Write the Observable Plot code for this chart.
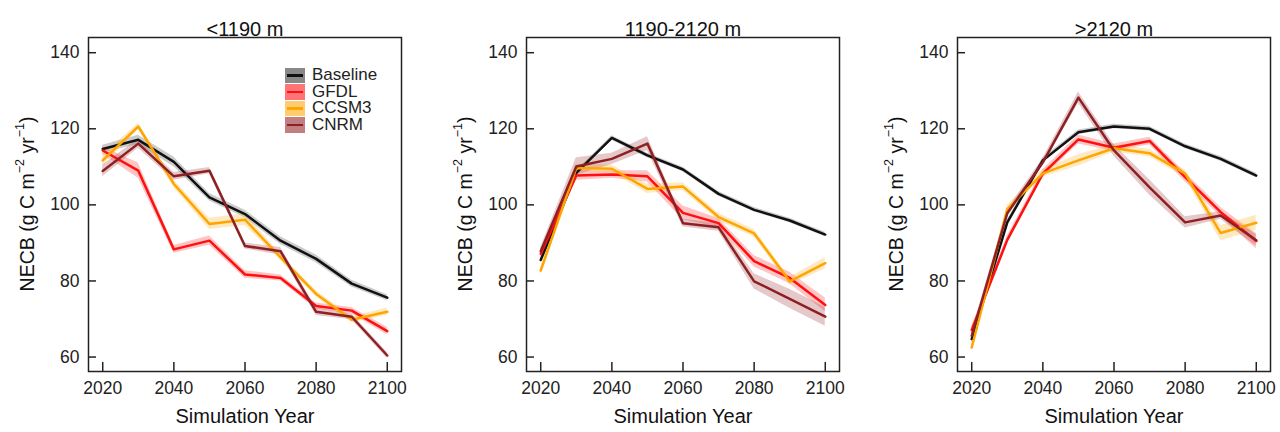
<!DOCTYPE html>
<html>
<head>
<meta charset="utf-8">
<script src="https://cdn.jsdelivr.net/npm/d3@7"></script>
<script src="https://cdn.jsdelivr.net/npm/@observablehq/plot@0.6"></script>
<style>
  body { margin: 0; background: white; font-family: "Liberation Sans", Arial, sans-serif; }
  #wrap { position: relative; width: 1280px; height: 432px; overflow: hidden; }
  .panel { position: absolute; top: 0; }
  .legend { position: absolute; left: 285px; top: 67px; font-size: 17px; color: #222; }
  .legend .row { display: flex; align-items: center; height: 16.5px; }
  .legend .sw { position: relative; width: 20px; height: 15.5px; margin-right: 7px; }
  .legend .sw .ln { position: absolute; left: 2px; right: 2px; top: 6.5px; height: 2.5px; }
</style>
</head>
<body>
<div id="wrap"></div>
<script>
// ---------- data ----------
const years = [2020, 2030, 2040, 2050, 2060, 2070, 2080, 2090, 2100];
const panelTitles = ["<1190 m", "1190-2120 m", ">2120 m"];
const seriesNames = ["Baseline", "GFDL", "CCSM3", "CNRM"];
const seriesColors = ["#111111", "#ff1010", "#ffa500", "#8e2024"];
const bandColors = ["#555555", "#ff3b3b", "#ffb733", "#a8484b"];
const xTicks = [2020, 2040, 2060, 2080, 2100];
const yTicks = [60, 80, 100, 120, 140];

// panel 1: <1190 m
const p1Baseline = [114.7, 117.1, 111.3, 102.0, 97.6, 90.6, 85.8, 79.3, 75.6];
const p1GFDL     = [114.3, 109.0, 88.3, 90.6, 81.7, 80.8, 73.4, 72.2, 66.8];
const p1CCSM3    = [111.7, 120.6, 105.5, 95.0, 96.1, 86.2, 76.6, 69.8, 71.9];
const p1CNRM     = [108.9, 116.1, 107.5, 109.0, 89.2, 87.8, 71.9, 70.6, 60.4];
// panel 2: 1190-2120 m
const p2Baseline = [85.5, 108.4, 117.6, 113.0, 109.3, 102.9, 98.7, 95.9, 92.2];
const p2GFDL     = [87.1, 107.7, 108.0, 107.5, 97.9, 95.2, 85.2, 80.8, 73.7];
const p2CCSM3    = [82.7, 109.7, 109.5, 104.2, 104.8, 96.8, 92.5, 79.9, 84.7];
const p2CNRM     = [87.8, 110.1, 112.1, 116.1, 95.2, 94.1, 79.9, 75.3, 70.6];
// panel 3: >2120 m
const p3Baseline = [64.7, 95.4, 111.7, 119.1, 120.6, 120.0, 115.4, 112.1, 107.7];
const p3GFDL     = [67.1, 90.8, 108.2, 117.2, 115.0, 116.8, 107.3, 98.1, 90.5];
const p3CCSM3    = [62.5, 98.9, 108.3, 111.7, 114.9, 113.6, 108.2, 92.6, 95.3];
const p3CNRM     = [65.6, 97.8, 111.2, 128.2, 114.3, 104.6, 95.4, 97.2, 90.7];

// band half-widths (uncertainty) read from the shaded ribbons
const p1BaselineSd = [1.0, 1.2, 1.3, 1.0, 1.0, 1.0, 1.0, 0.9, 0.8];
const p1GFDLSd     = [1.0, 2.0, 1.0, 1.2, 1.0, 0.8, 0.8, 0.8, 1.0];
const p1CCSM3Sd    = [1.5, 0.8, 1.0, 1.5, 1.5, 0.8, 0.8, 0.8, 1.0];
const p1CNRMSd     = [1.5, 1.2, 1.0, 0.8, 0.8, 1.0, 1.0, 0.8, 0.8];
const p2BaselineSd = [0.6, 0.6, 0.6, 0.6, 0.6, 0.6, 0.6, 0.6, 0.6];
const p2GFDLSd     = [1.0, 1.2, 1.0, 1.5, 1.8, 1.2, 1.5, 1.5, 1.8];
const p2CCSM3Sd    = [1.0, 1.0, 1.0, 1.2, 1.0, 1.0, 1.0, 1.0, 1.5];
const p2CNRMSd     = [1.0, 2.3, 1.5, 1.8, 1.0, 1.0, 2.0, 2.5, 2.5];
const p3BaselineSd = [0.6, 0.6, 0.6, 0.6, 0.6, 0.6, 0.6, 0.6, 0.6];
const p3GFDLSd     = [1.0, 1.0, 1.0, 1.2, 1.0, 1.0, 1.2, 1.2, 2.0];
const p3CCSM3Sd    = [1.0, 1.0, 1.0, 1.5, 1.0, 1.0, 1.0, 2.0, 2.0];
const p3CNRMSd     = [1.0, 1.0, 1.0, 1.5, 1.5, 2.0, 1.5, 1.0, 1.5];

const panelValues = [
  [p1Baseline, p1GFDL, p1CCSM3, p1CNRM],
  [p2Baseline, p2GFDL, p2CCSM3, p2CNRM],
  [p3Baseline, p3GFDL, p3CCSM3, p3CNRM]
];
const panelSds = [
  [p1BaselineSd, p1GFDLSd, p1CCSM3Sd, p1CNRMSd],
  [p2BaselineSd, p2GFDLSd, p2CCSM3Sd, p2CNRMSd],
  [p3BaselineSd, p3GFDLSd, p3CCSM3Sd, p3CNRMSd]
];

// ---------- drawing ----------
const FONT = '"Liberation Sans", Arial, Helvetica, sans-serif';
const wrap = document.getElementById("wrap");
const lefts = [0, 438, 869];
const W = 410, H = 432, ML = 88, MR = 9, MT = 37, MB = 61;
const fw = W - ML - MR, fh = H - MT - MB;
const TICKFS = 17.5;

panelTitles.forEach((title, pi) => {
  const rows = [];
  seriesNames.forEach((s, si) => {
    years.forEach((yr, k) => {
      const v = panelValues[pi][si][k], sd = panelSds[pi][si][k];
      rows.push({series: s, year: yr, value: v, lo: v - sd, hi: v + sd});
    });
  });
  const plot = Plot.plot({
    width: W, height: H,
    marginLeft: ML, marginRight: MR, marginTop: MT, marginBottom: MB,
    style: {fontFamily: FONT, fontSize: "17.5px", color: "#222", background: "white", overflow: "visible"},
    x: {domain: [2016, 2104], axis: null},
    y: {domain: [56.2, 144], axis: null},
    marks: [
      ...seriesNames.map((s, si) => Plot.areaY(rows.filter(d => d.series === s), {
        x: "year", y1: "lo", y2: "hi", fill: bandColors[si], fillOpacity: 0.3
      })),
      ...seriesNames.map((s, si) => Plot.line(rows.filter(d => d.series === s), {
        x: "year", y: "value", stroke: seriesColors[si], strokeWidth: 2.5
      })),
      Plot.frame({stroke: "#222", strokeWidth: 1.5}),
      Plot.tickY(yTicks, {y: d => d, insetRight: fw - 8, stroke: "#222", strokeWidth: 1.5}),
      Plot.tickX(xTicks, {x: d => d, insetTop: fh - 9, stroke: "#222", strokeWidth: 1.5}),
      Plot.text(xTicks, {x: d => d, text: d => String(d), frameAnchor: "bottom", lineAnchor: "top", dy: 10, fontSize: TICKFS, fill: "#222"}),
      Plot.text(yTicks, {y: d => d, text: d => String(d), frameAnchor: "left", textAnchor: "end", dx: -9, fontSize: TICKFS, fill: "#222"}),
      Plot.text([title], {text: d => d, frameAnchor: "top", dy: -16, fontSize: 20, fill: "#111"}),
      Plot.text(["Simulation Year"], {text: d => d, frameAnchor: "bottom", dy: 51, fontSize: 20, fill: "#111"})
    ]
  });
  const svg = d3.select(plot.tagName.toLowerCase() === "svg" ? plot : plot.querySelector("svg"));
  // y-axis label with superscripts
  const t = svg.append("text")
    .attr("transform", `translate(27,${MT + fh / 2}) rotate(-90)`)
    .attr("text-anchor", "middle")
    .attr("dominant-baseline", "central")
    .attr("font-family", FONT)
    .attr("font-size", 19.5)
    .attr("fill", "#111");
  t.append("tspan").text("NECB (g C m");
  t.append("tspan").attr("dy", -7).attr("font-size", 12.5).text("\u22122");
  t.append("tspan").attr("dy", 7).text(" yr");
  t.append("tspan").attr("dy", -7).attr("font-size", 12.5).text("\u22121");
  t.append("tspan").attr("dy", 7).text(")");

  const holder = document.createElement("div");
  holder.className = "panel";
  holder.style.left = lefts[pi] + "px";
  holder.appendChild(plot);
  wrap.appendChild(holder);
});

// legend (first panel only)
const legend = document.createElement("div");
legend.className = "legend";
seriesNames.forEach((s, si) => {
  const row = document.createElement("div");
  row.className = "row";
  const sw = document.createElement("div");
  sw.className = "sw";
  sw.style.backgroundColor = d3.color(bandColors[si]).copy({opacity: 0.7}).formatRgb();
  const ln = document.createElement("div");
  ln.className = "ln";
  ln.style.background = seriesColors[si];
  sw.appendChild(ln);
  const lab = document.createElement("span");
  lab.textContent = s;
  row.appendChild(sw);
  row.appendChild(lab);
  legend.appendChild(row);
});
wrap.appendChild(legend);
</script>
</body>
</html>
